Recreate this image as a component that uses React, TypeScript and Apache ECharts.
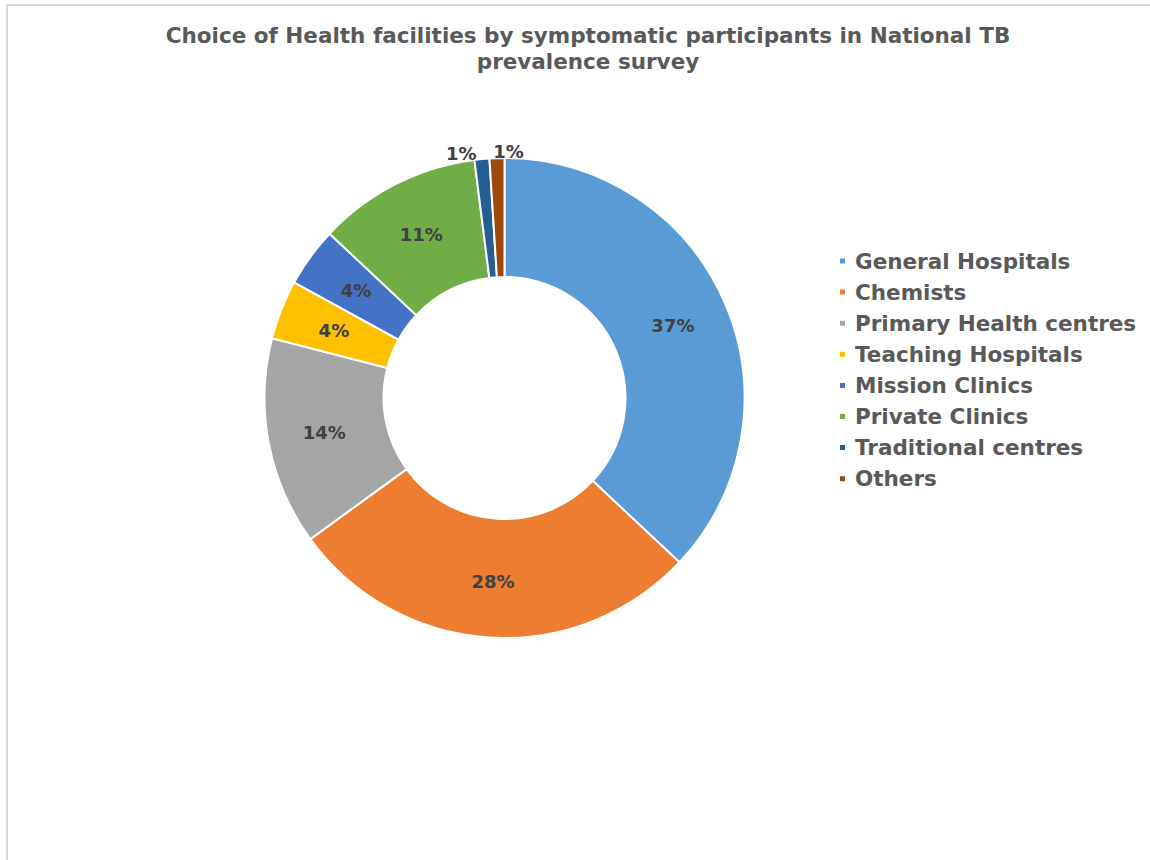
import React, { useEffect, useRef } from "react";
import * as echarts from "echarts";

const TITLE = "Choice of Health facilities by symptomatic participants in National TB\nprevalence survey";
const categories = [
  "General Hospitals",
  "Chemists",
  "Primary Health centres",
  "Teaching Hospitals",
  "Mission Clinics",
  "Private Clinics",
  "Traditional centres",
  "Others",
];
const values = [37, 28, 14, 4, 4, 11, 1, 1];
const colors = ["#5B9BD5", "#ED7D31", "#A5A5A5", "#FFC000", "#4472C4", "#70AD47", "#255E91", "#9E480E"];
const outsideLabelIdx = [6, 7];

const FONT = "DejaVu Sans";

export default function App() {
  const ref = useRef<HTMLDivElement>(null);
  useEffect(() => {
    if (!ref.current) return;
    const chart = echarts.init(ref.current, null, { renderer: "svg" });
    const total = values.reduce((a, b) => a + b, 0);
    chart.setOption({
      animation: false,
      backgroundColor: "#ffffff",
      color: colors,
      title: {
        text: TITLE,
        left: 583,
        top: 17,
        textAlign: "center",
        textStyle: {
          fontFamily: FONT,
          fontWeight: "bold",
          fontSize: 21.5,
          color: "#595959",
          lineHeight: 26,
        },
      },
      legend: {
        orient: "vertical",
        left: 833,
        top: 245,
        itemWidth: 7,
        itemHeight: 7,
        itemGap: 9.1,
        icon: "rect",
        data: categories,
        textStyle: {
          fontFamily: FONT,
          fontWeight: "bold",
          fontSize: 21.5,
          lineHeight: 20,
          color: "#595959",
          padding: [0, 0, 0, 4],
        },
      },
      graphic: [
        {
          type: "rect",
          shape: { x: 7, y: 5, width: 1170, height: 880 },
          style: { fill: "none", stroke: "#d9d9d9", lineWidth: 2 },
          silent: true,
        },
      ],
      series: [
        {
          type: "pie",
          center: [504.5, 398],
          radius: [121, 240],
          startAngle: 90,
          clockwise: true,
          avoidLabelOverlap: false,
          itemStyle: { borderColor: "#ffffff", borderWidth: 2 },
          label: {
            show: true,
            position: "inside",
            formatter: (p: any) => Math.round((p.value / total) * 100) + "%",
            fontFamily: FONT,
            fontWeight: "bold",
            fontSize: 18,
            color: "#404040",
          },
          labelLine: { show: false, length: 4, length2: 0 },
          labelLayout: (p: any) =>
            p.dataIndex === 7 ? { dx: 29, dy: -3 } : p.dataIndex === 6 ? { dx: -3, dy: -2 } : {},
          data: categories.map((name, i) => {
            const item: any = { name, value: values[i] };
            if (outsideLabelIdx.includes(i)) {
              item.label = { position: "outside", distanceToLabelLine: 2 };
              item.labelLine = { show: false };
            }
            return item;
          }),
        },
      ],
    });
    return () => chart.dispose();
  }, []);
  return (
    <div
      ref={ref}
      style={{ position: "absolute", left: 0, top: 0, width: 1150, height: 860 }}
    />
  );
}
